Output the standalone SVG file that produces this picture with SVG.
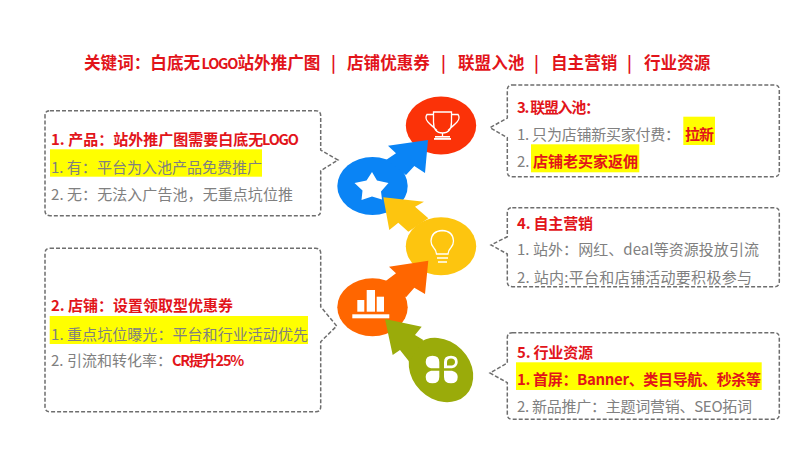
<svg xmlns="http://www.w3.org/2000/svg" width="809" height="455" viewBox="0 0 809 455">
<style>
text{font-family:"Noto Sans CJK SC","Liberation Sans",sans-serif;font-size:15px}
.h{fill:#e2141a;font-weight:700}
.b{fill:#808080}
.t{font-size:16.6px}
.n{font-size:14.5px;letter-spacing:-1.2px}
.box{fill:#fff;stroke:#6e6e6e;stroke-width:1.5;stroke-dasharray:4 2}
.hl{fill:#ffff00}
.ic{fill:none;stroke:#fff;stroke-width:1.3}
.wh{fill:#fff}
</style>
<rect width="809" height="455" fill="#fff"/>
<text id="title" class="h t" y="69"><tspan x="84">关键词：白底无</tspan><tspan x="201.5" class="n">LOGO</tspan><tspan x="237.5">站外推广图</tspan><tspan x="331">|</tspan><tspan x="347">店铺优惠券</tspan><tspan x="441">|</tspan><tspan x="458">联盟入池</tspan><tspan x="534">|</tspan><tspan x="551">自主营销</tspan><tspan x="627">|</tspan><tspan x="644">行业资源</tspan></text>

<g id="node-1">
<path class="box" d="M50 110.7H315.7Q320.7 110.7 320.7 115.7V150L338 160L320.7 170.7V210.7Q320.7 215.7 315.7 215.7H50Q45 215.7 45 210.7V115.7Q45 110.7 50 110.7Z"/>
<rect class="hl" x="50" y="149.3" width="212" height="27.4"/>
<text class="h" y="144.5"><tspan x="51">1. 产品：站外推广图需要白底无</tspan><tspan x="262" class="n">LOGO</tspan></text>
<text class="b" x="51" y="173" textLength="211">1. 有：平台为入池产品免费推广</text>
<text class="b" x="51" y="199.5" textLength="242">2. 无：无法入广告池，无重点坑位推</text>
</g>

<g id="node-2">
<path class="box" d="M50 248.3H315.7Q320.7 248.3 320.7 253.3V306.7L336.7 326L320.7 341.7V406.7Q320.7 411.7 315.7 411.7H50Q45 411.7 45 406.7V253.3Q45 248.3 50 248.3Z"/>
<rect class="hl" x="49.7" y="316" width="258.3" height="28"/>
<text class="h" x="51" y="311" textLength="182">2. 店铺：设置领取型优惠券</text>
<text class="b" x="51" y="339.5" textLength="257">1. 重点坑位曝光：平台和行业活动优先</text>
<text class="b" x="51" y="366" textLength="121">2. 引流和转化率：</text>
<text class="h n" x="172" y="366">CR提升25%</text>
</g>

<g id="node-3">
<path class="box" d="M512.3 85H774.3Q779.3 85 779.3 90V171.7Q779.3 176.7 774.3 176.7H512.3Q507.3 176.7 507.3 171.7V137.7L490 127.7L507.3 118V90Q507.3 85 512.3 85Z"/>
<rect class="hl" x="683.3" y="116.7" width="31.7" height="28.3"/>
<rect class="hl" x="531" y="144.3" width="108.3" height="28"/>
<text class="h" x="517" y="112.5" textLength="83">3. 联盟入池：</text>
<text class="b" x="517" y="140" textLength="163">1. 只为店铺新买家付费：</text>
<text class="h" x="685" y="140" textLength="29">拉新</text>
<text class="b" x="517" y="167">2.</text>
<text class="h" x="533" y="167" textLength="105">店铺老买家返佣</text>
</g>

<g id="node-4">
<path class="box" d="M512.3 207.7H774.3Q779.3 207.7 779.3 212.7V281.7Q779.3 286.7 774.3 286.7H512.3Q507.3 286.7 507.3 281.7V254L491 245L507.3 236.7V212.7Q507.3 207.7 512.3 207.7Z"/>
<text class="h" x="517" y="228.5" textLength="76">4. 自主营销</text>
<text class="b" x="517" y="255" textLength="242">1. 站外：网红、deal等资源投放引流</text>
<text class="b" x="517" y="283" textLength="235">2. 站内:平台和店铺活动要积极参与</text>
</g>

<g id="node-5">
<path class="box" d="M512.3 332.7H774.3Q779.3 332.7 779.3 337.7V414.3Q779.3 419.3 774.3 419.3H512.3Q507.3 419.3 507.3 414.3V382.7L490 373L507.3 363V337.7Q507.3 332.7 512.3 332.7Z"/>
<rect class="hl" x="516" y="362.3" width="245.7" height="27.7"/>
<text class="h" x="517" y="357.5" textLength="76">5. 行业资源</text>
<text class="h" x="517" y="384.5" textLength="244">1. 首屏：Banner、类目导航、秒杀等</text>
<text class="b" x="517" y="412" textLength="235">2. 新品推广：主题词营销、SEO拓词</text>
</g>

<g id="circle-trophy">
<ellipse cx="441" cy="125.5" rx="35.2" ry="29" fill="#fb3208"/>
<path class="ic" d="M433.5 112H451.5V122Q451.5 133 442.5 133Q433.5 133 433.5 122ZM433.5 114.5H427Q424.5 118 428 122Q431 125 437 130.5M451.5 114.5H458Q460.5 118 457 122Q454 125 448 130.5M442.5 133V136"/>
<rect class="wh" x="435" y="136" width="15" height="1.6"/>
<rect class="wh" x="434" y="138" width="17" height="1.8"/>
</g>
<g id="circle-star">
<ellipse cx="372.5" cy="186" rx="35.2" ry="29" fill="#0a84f5"/>
<path class="wh" d="M372 172L377 180.5L388.5 183L381 191.5L382 199.5L372 196.5L361.5 200L362.5 190.5L354.5 183L366.5 180.5Z"/>
</g>
<g id="circle-bulb">
<ellipse cx="441" cy="246.3" rx="35.2" ry="29" fill="#fdc50f"/>
<path class="ic" d="M436.5 254Q436 250 433.5 247.5Q431 244.5 431 241Q431.5 231 442.3 230.5Q453 231 453.5 241Q453.5 244.5 451 247.5Q448.5 250 448 254Z"/>
<path class="ic" d="M437 258H448M438 262H447"/>
</g>
<g id="circle-chart">
<ellipse cx="372.5" cy="307.2" rx="35.2" ry="29" fill="#ff6600"/>
<rect class="wh" x="357.3" y="300" width="7" height="11.7"/>
<rect class="wh" x="366.7" y="290" width="8.3" height="21.7"/>
<rect class="wh" x="376.7" y="296.7" width="7.3" height="15"/>
<rect class="wh" x="352.3" y="314.3" width="37" height="4"/>
</g>
<g id="circle-clover">
<ellipse cx="441" cy="370" rx="35.2" ry="29" transform="rotate(45 441 370)" fill="#9aab0a"/>
<path class="wh" d="M439.3 368.3H431Q425.7 367 425.7 362Q425.7 355.7 432.5 355.7Q439.3 355.7 439.3 362Z"/>
<path d="M444 368.3H452Q457.7 367 457.7 362Q457.7 355.7 451 355.7Q444 355.7 444 362Z" fill="#fff"/>
<path d="M447 365.5H452Q455 364.5 455 362Q455 358.5 451 358.5Q447 358.5 447 362Z" fill="#9aab0a"/>
<path class="wh" d="M439.3 370.7H431Q425.7 372 425.7 377Q425.7 383.3 432.5 383.3Q439.3 383.3 439.3 377Z"/>
<path class="wh" d="M444 370.7H452Q457.7 372 457.7 377Q457.7 383.3 451 383.3Q444 383.3 444 377Z"/>
</g>

<g id="connectors">
<path id="arrow-blue-red" fill="#0a84f5" d="M428 140L388 145.7L396 153.3L386 160L406 175L414.3 166L425 173Z"/>
<path id="arrow-yellow-blue" fill="#fdc50f" d="M383.3 197.3L424 201.7L415 206.7L428.3 218.3L408.3 231.7L398.3 222.7L389.3 230Z"/>
<path id="arrow-orange-yellow" fill="#ff6600" d="M428.3 260.7L389 266.7L396 273.3L386 280.7L406 297.3L414.3 287.7L425 294Z"/>
<path id="arrow-green-orange" fill="#9aab0a" d="M385 319L421.7 326.7L415 335L423.3 340L409.3 361.7L400 350L392.7 355Z"/>
</g>
</svg>
